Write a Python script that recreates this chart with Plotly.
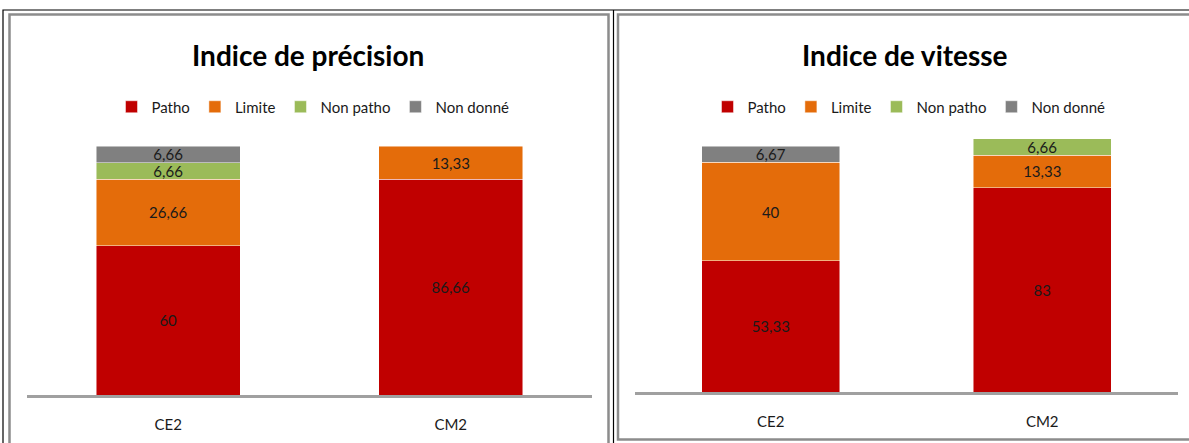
import plotly.graph_objects as go

# Data
classes = ["CE2", "CM2"]
series = ["Patho", "Limite", "Non patho", "Non donné"]
colors = ["#C00000", "#E46C0A", "#9BBB59", "#808080"]

precision_patho = [60, 86.66]
precision_limite = [26.66, 13.33]
precision_non_patho = [6.66, None]
precision_non_donne = [6.66, None]

vitesse_patho = [53.33, 83]
vitesse_limite = [40, 13.33]
vitesse_non_patho = [None, 6.66]
vitesse_non_donne = [6.67, None]

W, H = 1189, 443
FONT = "Lato, Roboto, Arial, sans-serif"


def fmt(v):
    return "" if v is None else f"{v:g}".replace(".", ",")


def px(x):
    return x / W


def py(y):
    return 1 - y / H


fig = go.Figure()

panels = [
    ("x", "y", "legend", [precision_patho, precision_limite, precision_non_patho, precision_non_donne]),
    ("x2", "y2", "legend2", [vitesse_patho, vitesse_limite, vitesse_non_patho, vitesse_non_donne]),
]

for xa, ya, leg, data in panels:
    for name, color, vals in zip(series, colors, data):
        fig.add_trace(go.Bar(
            x=classes, y=vals, name=name, xaxis=xa, yaxis=ya, legend=leg,
            marker=dict(color=color, line=dict(color="rgba(255,255,255,0.6)", width=0.8)),
            text=[fmt(v) for v in vals], textposition="inside",
            insidetextanchor="middle", textangle=0,
            textfont=dict(family=FONT, size=15, color="#1a1a1a"),
            hoverinfo="skip",
        ))

axis_common = dict(showgrid=False, zeroline=False, fixedrange=True)
xtick = dict(ticks="outside", ticklen=14, tickcolor="rgba(0,0,0,0)", tickfont=dict(size=15))

fig.update_layout(
    width=W, height=H,
    margin=dict(l=0, r=0, t=0, b=0),
    paper_bgcolor="white", plot_bgcolor="white",
    barmode="stack", bargap=0.49,
    uniformtext=dict(minsize=15, mode="show"),
    font=dict(family=FONT, size=15, color="#1a1a1a"),
    xaxis=dict(domain=[px(27), px(592)], anchor="y", showline=True, linecolor="#A0A0A0",
               linewidth=3, **xtick, **axis_common),
    yaxis=dict(domain=[py(395), py(146)], range=[0, 100], anchor="x", visible=False, **axis_common),
    xaxis2=dict(domain=[px(635), px(1178)], anchor="y2", showline=True, linecolor="#A0A0A0",
                linewidth=3, **xtick, **axis_common),
    yaxis2=dict(domain=[py(392), py(146 - 4 * 2.46)], range=[0, 104], anchor="x2", visible=False, **axis_common),
    legend=dict(orientation="h", x=px(313), xanchor="center", y=py(107), yanchor="middle",
                font=dict(size=15), itemwidth=30, traceorder="normal", bgcolor="rgba(0,0,0,0)"),
    legend2=dict(orientation="h", x=px(909), xanchor="center", y=py(107), yanchor="middle",
                 font=dict(size=15), itemwidth=30, traceorder="normal", bgcolor="rgba(0,0,0,0)"),
    showlegend=True,
)

# Panel titles
for cx, title in [(308, "Indice de précision"), (905, "Indice de vitesse")]:
    fig.add_annotation(x=px(cx), y=py(55), xref="paper", yref="paper", text=f"<b>{title}</b>",
                       showarrow=False, font=dict(family=FONT, size=28, color="black"),
                       xanchor="center", yanchor="middle")

# Frames around both charts
frames = [
    dict(x0=px(3), x1=px(1195), y0=py(460), y1=py(10), line=dict(color="black", width=1.2)),
    dict(x0=px(613.5), x1=px(613.5), y0=py(460), y1=py(10), line=dict(color="black", width=1.2)),
    dict(x0=px(9.5), x1=px(608.5), y0=py(460), y1=py(14.5), line=dict(color="#8C8C8C", width=2.5)),
    dict(x0=px(618), x1=px(1195), y0=py(439.5), y1=py(14.5), line=dict(color="#8C8C8C", width=2.5)),
]
for f in frames:
    kind = "line" if f["x0"] == f["x1"] else "rect"
    fig.add_shape(type=kind, xref="paper", yref="paper", layer="above", **f)

fig.write_html("out.html")
